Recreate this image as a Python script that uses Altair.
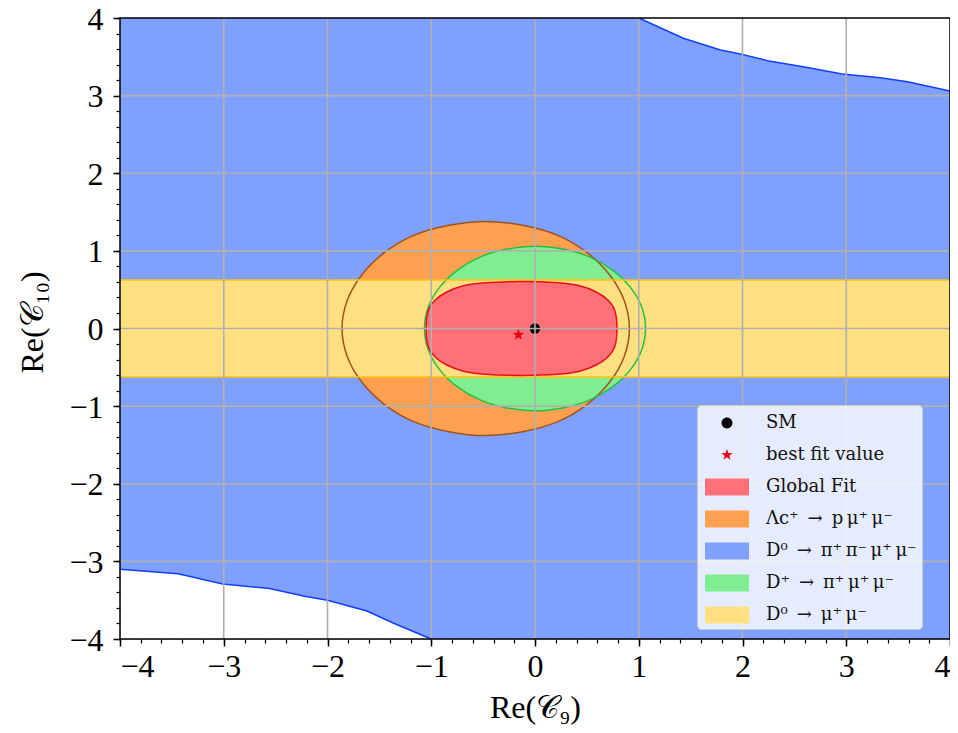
import altair as alt
import pandas as pd

FONT = "Liberation Serif"
LEG_FONT = "DejaVu Serif"
W, H = 830, 621

# ---- data ----
BLUE_TR_X = [1.00, 1.43, 1.78, 2.00, 2.24, 2.60, 2.96, 3.33, 3.59, 4.00]
BLUE_TR_Y = [4.00, 3.74, 3.59, 3.53, 3.45, 3.37, 3.28, 3.23, 3.18, 3.06]
BLUE_BL_X = [-4.00, -3.44, -3.01, -2.56, -2.22, -2.00, -1.62, -1.34, -1.00]
BLUE_BL_Y = [-3.10, -3.16, -3.29, -3.35, -3.45, -3.50, -3.64, -3.81, -4.00]

ORANGE_X = [0.91, 0.86, 0.72, 0.50, 0.22, -0.12, -0.48, -0.83, -1.17, -1.45, -1.67, -1.81,
            -1.86, -1.81, -1.67, -1.45, -1.17, -0.83, -0.48, -0.12, 0.22, 0.50, 0.72, 0.86]
ORANGE_Y = [0.00, 0.36, 0.69, 0.98, 1.20, 1.33, 1.38, 1.33, 1.20, 0.98, 0.69, 0.36,
            0.00, -0.36, -0.69, -0.98, -1.20, -1.33, -1.38, -1.33, -1.20, -0.98, -0.69, -0.36]

GREEN_X = [1.065, 1.03, 0.92, 0.75, 0.53, 0.28, 0.00, -0.28, -0.53, -0.75, -0.92, -1.03,
           -1.065, -1.03, -0.92, -0.75, -0.53, -0.28, 0.00, 0.28, 0.53, 0.75, 0.92, 1.03]
GREEN_Y = [0.00, 0.27, 0.53, 0.75, 0.92, 1.02, 1.06, 1.02, 0.92, 0.75, 0.53, 0.27,
           0.00, -0.27, -0.53, -0.75, -0.92, -1.02, -1.06, -1.02, -0.92, -0.75, -0.53, -0.27]

RED_X = [0.79, 0.77, 0.70, 0.59, 0.43, 0.22, -0.13, -0.48, -0.69, -0.85, -0.96, -1.03,
         -1.05, -1.03, -0.96, -0.85, -0.69, -0.48, -0.13, 0.22, 0.43, 0.59, 0.70, 0.77]
RED_Y = [0.00, 0.23, 0.37, 0.47, 0.55, 0.59, 0.605, 0.59, 0.55, 0.47, 0.37, 0.23,
         0.00, -0.23, -0.37, -0.47, -0.55, -0.59, -0.605, -0.59, -0.55, -0.47, -0.37, -0.23]

BAND_X = [-4.0, 4.0]
BAND_Y = [-0.625, 0.625]

SM_X, SM_Y = [0.0], [0.0]
BEST_X, BEST_Y = [-0.16], [-0.08]

GRID_VALUES = [-3, -2, -1, 0, 1, 2, 3]
MAJOR_TICKS = [-4, -3, -2, -1, 0, 1, 2, 3, 4]
MINOR_TICKS = [round(-4 + 0.2 * i, 1) for i in range(41)]
FRAME = [-4.0, 4.0]

LABELS = ["SM", "best fit value", "Global Fit",
          "Λc⁺\u2002→\u2002p\u2009μ⁺\u2009μ⁻",
          "D⁰\u2002→\u2002π⁺\u2009π⁻\u2009μ⁺\u2009μ⁻",
          "D⁺\u2002→\u2002π⁺\u2009μ⁺\u2009μ⁻",
          "D⁰\u2002→\u2002μ⁺\u2009μ⁻"]
COLORS = ["#000000", "#e8000b", "#ff7078", "#ffa050", "#80a0ff", "#80ee90", "#ffe080"]

# ---- styles ----
BLUE_FILL, BLUE_LINE = "#80a0ff", "#1040ff"
ORANGE_FILL, ORANGE_LINE = "#ffa050", "#a0521e"
GREEN_FILL, GREEN_LINE = "#80ee90", "#20c040"
YELLOW_FILL, YELLOW_LINE = "#ffe080", "#ffc010"
RED_FILL, RED_LINE = "#ff7078", "#e8101c"

LEG_RECT = "M-0.77,-0.65H2.62V0.65H-0.77Z"
LEG_CIRCLE = "M0.50,0A0.42,0.42,0,1,1,1.34,0A0.42,0.42,0,1,1,0.50,0Z"
LEG_STAR = ("M0.92,-0.46L1.03,-0.15L1.36,-0.14L1.10,0.06L1.19,0.37L0.92,0.18"
            "L0.65,0.37L0.75,0.06L0.49,-0.14L0.82,-0.15Z")
SHAPES = [LEG_CIRCLE, LEG_STAR, LEG_RECT, LEG_RECT, LEG_RECT, LEG_RECT, LEG_RECT]
STAR = ("M0,-1L0.235,-0.324L0.951,-0.309L0.380,0.124L0.588,0.809L0,0.4"
        "L-0.588,0.809L-0.380,0.124L-0.951,-0.309L-0.235,-0.324Z")

xs = alt.Scale(domain=[-4, 4], nice=False, zero=False)
ys = alt.Scale(domain=[-4, 4], nice=False, zero=False)

label_expr = "datum.value < 0 ? '\u2212' + format(-datum.value, 'd') : format(datum.value, 'd')"

x_main = alt.Axis(values=MAJOR_TICKS, orient="bottom", grid=False, domain=False,
                  tickSize=7, tickWidth=1.5, tickColor="black",
                  labelExpr=label_expr, labelFont=FONT, labelFontSize=32, labelColor="black",
                  labelPadding=5, title="Re(𝒞₉)", titleFont=FONT, titleFontSize=32,
                  titleFontWeight="normal", titleColor="black", titleBaseline="alphabetic",
                  titleX=W / 2, titleY=78)
y_main = alt.Axis(values=MAJOR_TICKS, orient="left", grid=False, domain=False,
                  tickSize=7, tickWidth=1.5, tickColor="black",
                  labelExpr=label_expr, labelFont=FONT, labelFontSize=32, labelColor="black",
                  labelPadding=10, labelOffset=1, title="Re(𝒞₁₀)", titleFont=FONT, titleFontSize=32,
                  titleFontWeight="normal", titleColor="black", titleBaseline="alphabetic",
                  titleX=-78, titleY=304)
x_minor = alt.Axis(values=MINOR_TICKS, orient="bottom", grid=False, domain=False, labels=False,
                   tickSize=4, tickWidth=1.2, tickColor="black", title=None)
y_minor = alt.Axis(values=MINOR_TICKS, orient="left", grid=False, domain=False, labels=False,
                   tickSize=4, tickWidth=1.2, tickColor="black", title=None)

# blue region as an area between lower and upper boundaries
blue_df = pd.DataFrame({
    "x": BLUE_BL_X + BLUE_TR_X,
    "upper": [4.0] * len(BLUE_BL_X) + BLUE_TR_Y,
    "lower": BLUE_BL_Y + [-4.0] * len(BLUE_TR_X),
})
blue_fill = alt.Chart(blue_df).mark_area(color=BLUE_FILL, opacity=1, interpolate="linear").encode(
    x=alt.X("x:Q", scale=xs, axis=x_main),
    y=alt.Y("upper:Q", scale=ys, axis=y_main),
    y2="lower:Q",
)

def curve_df(xv, yv):
    return pd.DataFrame({"x": xv, "y": yv, "i": list(range(len(xv)))})

def blue_line(xv, yv):
    return alt.Chart(curve_df(xv, yv)).mark_line(color=BLUE_LINE, strokeWidth=1.5).encode(
        x=alt.X("x:Q", scale=xs, axis=None), y=alt.Y("y:Q", scale=ys, axis=None), order="i:Q")

def closed_fill(xv, yv, fill, axes=False):
    return alt.Chart(curve_df(xv, yv)).mark_line(
        fill=fill, stroke=fill, strokeWidth=0, interpolate="cardinal-closed").encode(
        x=alt.X("x:Q", scale=xs, axis=x_minor if axes else None),
        y=alt.Y("y:Q", scale=ys, axis=y_minor if axes else None),
        order="i:Q")

def closed_line(xv, yv, color):
    return alt.Chart(curve_df(xv, yv)).mark_line(
        color=color, strokeWidth=1.5, interpolate="cardinal-closed").encode(
        x=alt.X("x:Q", scale=xs, axis=None), y=alt.Y("y:Q", scale=ys, axis=None),
        order="i:Q")

band_df = pd.DataFrame({"x": [BAND_X[0]], "x2": [BAND_X[1]], "y": [BAND_Y[0]], "y2": [BAND_Y[1]]})
band_fill = alt.Chart(band_df).mark_rect(color=YELLOW_FILL, opacity=1).encode(
    x=alt.X("x:Q", scale=xs, axis=None), x2="x2:Q",
    y=alt.Y("y:Q", scale=ys, axis=None), y2="y2:Q")
band_lines = alt.Chart(pd.DataFrame({"y": BAND_Y})).mark_rule(color=YELLOW_LINE, strokeWidth=1.5).encode(
    y=alt.Y("y:Q", scale=ys, axis=None))

sm_pt = alt.Chart(pd.DataFrame({"x": SM_X, "y": SM_Y})).mark_point(
    shape="circle", size=110, filled=True, color="black", opacity=1).encode(
    x=alt.X("x:Q", scale=xs, axis=None), y=alt.Y("y:Q", scale=ys, axis=None))
best_pt = alt.Chart(pd.DataFrame({"x": BEST_X, "y": BEST_Y})).mark_point(
    shape=STAR, size=150, filled=True, color="#e8000b", opacity=1).encode(
    x=alt.X("x:Q", scale=xs, axis=None), y=alt.Y("y:Q", scale=ys, axis=None))

grid_x = alt.Chart(pd.DataFrame({"v": GRID_VALUES})).mark_rule(color="#b0b0b0", strokeWidth=1.6).encode(
    x=alt.X("v:Q", scale=xs, axis=None))
grid_y = alt.Chart(pd.DataFrame({"v": GRID_VALUES})).mark_rule(color="#b0b0b0", strokeWidth=1.6).encode(
    y=alt.Y("v:Q", scale=ys, axis=None))

frame = alt.Chart(pd.DataFrame({"x": [FRAME[0]], "x2": [FRAME[1]], "y": [FRAME[0]], "y2": [FRAME[1]]})).mark_rect(
    fill=None, fillOpacity=0, stroke="black", strokeWidth=1.5).encode(
    x=alt.X("x:Q", scale=xs, axis=None), x2="x2:Q",
    y=alt.Y("y:Q", scale=ys, axis=None), y2="y2:Q")

legend = alt.Legend(title=None, orient="none", legendX=577, legendY=387, padding=5,
                    rowPadding=10, labelOffset=38, labelFont=LEG_FONT, labelFontSize=18,
                    labelColor="#111111", labelLimit=400, symbolSize=676, symbolStrokeWidth=0,
                    fillColor="rgba(255,255,255,0.8)", strokeColor="#cccccc", cornerRadius=4)
leg_df = pd.DataFrame({"label": LABELS, "x": [0.0] * 7, "y": [0.0] * 7})
legend_layer = alt.Chart(leg_df).transform_filter("false").mark_point(
    filled=True, size=676, opacity=1).encode(
    x=alt.X("x:Q", scale=xs, axis=None), y=alt.Y("y:Q", scale=ys, axis=None),
    color=alt.Color("label:N", scale=alt.Scale(domain=LABELS, range=COLORS), legend=legend),
    shape=alt.Shape("label:N", scale=alt.Scale(domain=LABELS, range=SHAPES), legend=legend),
)

chart = alt.layer(
    blue_fill,
    closed_fill(ORANGE_X, ORANGE_Y, ORANGE_FILL, axes=True),
    closed_fill(GREEN_X, GREEN_Y, GREEN_FILL),
    band_fill,
    closed_fill(RED_X, RED_Y, RED_FILL),
    blue_line(BLUE_TR_X, BLUE_TR_Y),
    blue_line(BLUE_BL_X, BLUE_BL_Y),
    closed_line(ORANGE_X, ORANGE_Y, ORANGE_LINE),
    closed_line(GREEN_X, GREEN_Y, GREEN_LINE),
    band_lines,
    closed_line(RED_X, RED_Y, RED_LINE),
    sm_pt,
    best_pt,
    grid_x,
    grid_y,
    frame,
    legend_layer,
).resolve_axis(x="independent", y="independent").properties(
    width=W, height=H,
    autosize=alt.AutoSizeParams(type="none"),
    padding={"left": 112, "top": 10, "right": 0, "bottom": 86},
).configure_view(stroke=None).configure(background="white")

chart.save("out.html", embed_options={"renderer": "svg", "actions": False})
